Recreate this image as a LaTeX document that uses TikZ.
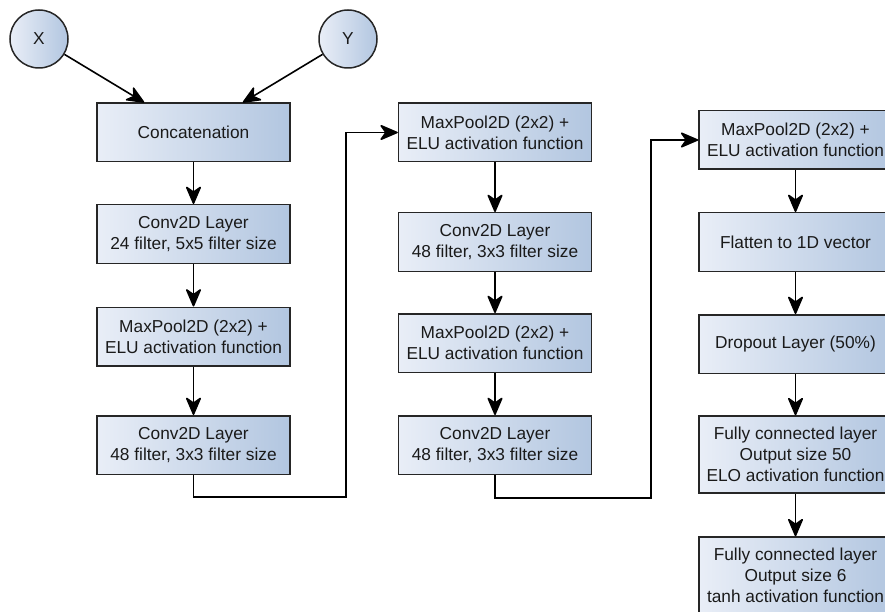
\documentclass[tikz,border=0pt]{standalone}
\usepackage{fontspec}
\setmainfont{Liberation Sans}
\usetikzlibrary{arrows.meta}
\definecolor{fillL}{HTML}{E9EEF7}
\definecolor{fillR}{HTML}{B2C6E0}
\definecolor{edge}{HTML}{262626}
\definecolor{ink}{HTML}{1A1A1A}
\tikzset{
  layer/.style={draw=edge, line width=1.5pt, left color=fillL, right color=fillR,
    minimum width=193pt, minimum height=58.5pt, inner sep=0pt, align=center,
    text=ink, font=\fontsize{17.3}{21}\selectfont},
  tall/.style={minimum height=77pt},
  inp/.style={circle, draw=edge, line width=1.5pt, left color=fillL, right color=fillR,
    minimum size=58pt, inner sep=0pt, text=ink, font=\fontsize{17.3}{21}\selectfont},
  tip/.tip={Stealth[length=20pt,width=17pt,inset=6pt,round]},
  arr/.style={draw=black, line width=1.6pt, -tip}
}
\begin{document}
\begin{tikzpicture}[x=1pt,y=-1pt]
\useasboundingbox (0,0) rectangle (885,612);
\clip (0,0) rectangle (885,612);

% inputs
\node[inp] (X) at (39,39) {X};
\node[inp] (Y) at (348,39) {Y};

% first column
\node[layer] (conc) at (193.5,132.5) {Concatenation};
\node[layer] (convA) at (193.5,234) {Conv2D Layer\\24 filter, 5x5 filter size};
\node[layer] (poolA) at (193.5,336.5) {MaxPool2D (2x2) +\\ELU activation function};
\node[layer] (convB) at (193.5,445) {Conv2D Layer\\48 filter, 3x3 filter size};

% second column
\node[layer] (poolB) at (495,132.5) {MaxPool2D (2x2) +\\ELU activation function};
\node[layer] (convC) at (495,242) {Conv2D Layer\\48 filter, 3x3 filter size};
\node[layer] (poolC) at (495,343) {MaxPool2D (2x2) +\\ELU activation function};
\node[layer] (convD) at (495,445) {Conv2D Layer\\48 filter, 3x3 filter size};

% third column
\node[layer] (poolD) at (795.5,140) {MaxPool2D (2x2) +\\ELU activation function};
\node[layer] (flat) at (795.5,242) {Flatten to 1D vector};
\node[layer] (drop) at (795.5,344) {Dropout Layer (50\%)};
\node[layer,tall] (fcA) at (795.5,454.5) {Fully connected layer\\Output size 50\\ELO activation function};
\node[layer,tall] (fcB) at (795.5,575.5) {Fully connected layer\\Output size 6\\tanh activation function};

% routing points between columns
\coordinate (c1) at (193.5,497);
\coordinate (c2) at (346,497);
\coordinate (c3) at (346,132.5);
\coordinate (d1) at (495,498);
\coordinate (d2) at (651,498);
\coordinate (d3) at (651,140);

% connectors
\draw[arr] (X) -- ([xshift=48pt]conc.north west);
\draw[arr] (Y) -- ([xshift=-48pt]conc.north east);
\draw[arr] (conc) -- (convA);
\draw[arr] (convA) -- (poolA);
\draw[arr] (poolA) -- (convB);
\draw[arr] (convB.south) -- (c1) -- (c2) -- (c3) -- (poolB.west);
\draw[arr] (poolB) -- (convC);
\draw[arr] (convC) -- (poolC);
\draw[arr] (poolC) -- (convD);
\draw[arr] (convD.south) -- (d1) -- (d2) -- (d3) -- (poolD.west);
\draw[arr] (poolD) -- (flat);
\draw[arr] (flat) -- (drop);
\draw[arr] (drop) -- (fcA);
\draw[arr] (fcA) -- (fcB);
\end{tikzpicture}
\end{document}
